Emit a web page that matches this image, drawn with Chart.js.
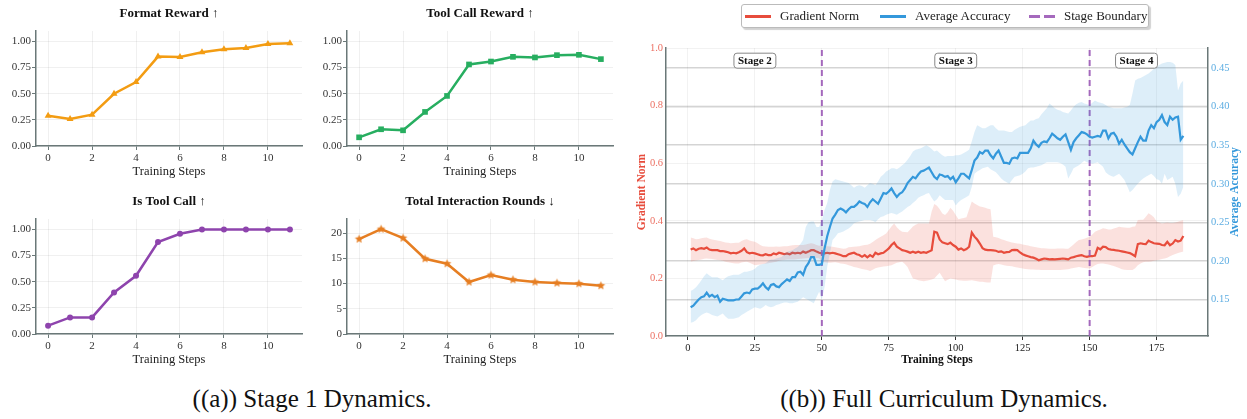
<!DOCTYPE html>
<html>
<head>
<meta charset="utf-8">
<script src="https://cdn.jsdelivr.net/npm/chart.js@4.4.1/dist/chart.umd.min.js"></script>
<style>
body { margin: 0; background: #fff; width: 1247px; height: 419px; position: relative; overflow: hidden; font-family: 'Liberation Serif', serif; }
canvas { position: absolute; }
.cap { position: absolute; top: 385px; font-size: 25px; color: #111; white-space: nowrap; transform: translateX(-50%); }
#legend { position: absolute; left: 741px; top: 4px; width: 406px; height: 22px; border: 1px solid #bbb; border-radius: 3px; box-shadow: 2px 2px 1px rgba(0,0,0,0.18); background: #fff; font-size: 13px; color: #222; }
#legend .ln { position: absolute; top: 10px; width: 26px; height: 2.5px; }
#legend .lt { position: absolute; top: 3px; }
</style>
</head>
<body>
<canvas id="c1" width="310" height="180" style="left:0;top:0"></canvas>
<canvas id="c2" width="310" height="180" style="left:311px;top:0"></canvas>
<canvas id="c3" width="310" height="180" style="left:0;top:188px"></canvas>
<canvas id="c4" width="310" height="180" style="left:311px;top:188px"></canvas>
<canvas id="big" width="617" height="370" style="left:630px;top:0"></canvas>
<div id="legend">
  <span class="ln" style="left:3px;background:#E74C3C"></span><span class="lt" style="left:38px">Gradient Norm</span>
  <span class="ln" style="left:138px;background:#3498DB"></span><span class="lt" style="left:173px">Average Accuracy</span>
  <span class="ln" style="left:287px;background:repeating-linear-gradient(90deg,#A569BD 0 11px,transparent 11px 15px)"></span><span class="lt" style="left:322px">Stage Boundary</span>
</div>
<div class="cap" style="left:312px">((a)) Stage 1 Dynamics.</div>
<div class="cap" style="left:944px">((b)) Full Curriculum Dynamics.</div>
<script>
// stage 1 (12 steps)
var stage1Steps = [0, 1, 2, 3, 4, 5, 6, 7, 8, 9, 10, 11];
var formatReward = [0.29, 0.258, 0.30, 0.50, 0.612, 0.855, 0.852, 0.896, 0.925, 0.938, 0.976, 0.983];
var toolCallReward = [0.083, 0.16, 0.15, 0.326, 0.479, 0.78, 0.808, 0.853, 0.847, 0.869, 0.872, 0.831];
var isToolCall = [0.08, 0.159, 0.159, 0.398, 0.557, 0.879, 0.959, 1.0, 1.0, 1.0, 1.0, 1.0];
var totalRounds = [18.81, 20.79, 19.01, 14.92, 13.93, 10.30, 11.68, 10.76, 10.30, 10.10, 9.97, 9.57];
var stage1XTicks = [0, 2, 4, 6, 8, 10];
var rateTicks = [0, 0.25, 0.5, 0.75, 1.0];
var roundTicks = [0, 5, 10, 15, 20];

// full curriculum, steps 1..185
var gradMean = [
0.300,0.304,0.298,0.303,0.305,0.303,0.307,0.300,0.298,0.298,
0.298,0.295,0.295,0.293,0.291,0.287,0.289,0.287,0.291,0.296,
0.304,0.291,0.287,0.289,0.287,0.284,0.281,0.280,0.284,0.281,
0.281,0.287,0.284,0.289,0.287,0.284,0.287,0.284,0.289,0.287,
0.289,0.287,0.293,0.289,0.293,0.298,0.298,0.293,0.289,0.287,
0.287,0.289,0.287,0.289,0.287,0.284,0.281,0.277,0.277,0.284,
0.287,0.289,0.284,0.281,0.275,0.281,0.273,0.281,0.275,0.289,
0.284,0.287,0.289,0.296,0.304,0.316,0.324,0.310,0.304,0.298,
0.296,0.293,0.289,0.293,0.289,0.293,0.289,0.291,0.289,0.293,
0.298,0.362,0.359,0.335,0.325,0.322,0.319,0.324,0.316,0.310,
0.300,0.304,0.298,0.302,0.310,0.359,0.345,0.335,0.321,0.305,
0.300,0.298,0.298,0.297,0.296,0.292,0.294,0.289,0.291,0.292,
0.298,0.299,0.298,0.290,0.284,0.280,0.277,0.274,0.272,0.268,
0.263,0.266,0.269,0.268,0.266,0.267,0.266,0.267,0.268,0.269,
0.268,0.266,0.272,0.274,0.277,0.279,0.281,0.277,0.275,0.277,
0.277,0.279,0.306,0.301,0.310,0.309,0.302,0.300,0.299,0.297,
0.296,0.294,0.292,0.290,0.288,0.283,0.277,0.319,0.322,0.320,
0.319,0.331,0.326,0.322,0.321,0.320,0.316,0.315,0.327,0.315,
0.321,0.333,0.328,0.331,0.347];
var gradHigh = [
0.342,0.339,0.336,0.337,0.339,0.341,0.342,0.338,0.335,0.333,
0.332,0.330,0.327,0.325,0.324,0.322,0.323,0.324,0.324,0.330,
0.334,0.336,0.332,0.329,0.327,0.322,0.316,0.312,0.311,0.310,
0.310,0.310,0.311,0.310,0.311,0.312,0.312,0.313,0.315,0.316,
0.316,0.316,0.316,0.318,0.320,0.322,0.320,0.316,0.313,0.314,
0.313,0.312,0.311,0.310,0.308,0.306,0.305,0.303,0.304,0.308,
0.309,0.310,0.311,0.312,0.314,0.316,0.317,0.320,0.326,0.333,
0.339,0.345,0.350,0.356,0.368,0.380,0.391,0.378,0.368,0.362,
0.361,0.360,0.370,0.380,0.386,0.391,0.391,0.391,0.391,0.391,
0.432,0.458,0.452,0.440,0.425,0.420,0.430,0.445,0.435,0.420,
0.405,0.408,0.410,0.412,0.440,0.467,0.460,0.455,0.450,0.448,
0.445,0.442,0.440,0.345,0.343,0.340,0.336,0.333,0.330,0.327,
0.325,0.323,0.321,0.320,0.318,0.316,0.314,0.312,0.310,0.308,
0.306,0.305,0.305,0.304,0.303,0.303,0.303,0.304,0.304,0.304,
0.303,0.303,0.310,0.318,0.326,0.333,0.335,0.338,0.341,0.345,
0.352,0.362,0.366,0.370,0.374,0.372,0.370,0.370,0.373,0.376,
0.379,0.378,0.377,0.376,0.376,0.379,0.380,0.403,0.404,0.404,
0.414,0.426,0.420,0.412,0.398,0.394,0.391,0.392,0.394,0.392,
0.392,0.394,0.397,0.400,0.403];
var gradLow = [
0.258,0.260,0.262,0.264,0.266,0.268,0.269,0.268,0.267,0.266,
0.264,0.263,0.261,0.258,0.256,0.254,0.253,0.252,0.252,0.255,
0.257,0.258,0.254,0.250,0.246,0.247,0.248,0.250,0.251,0.253,
0.254,0.256,0.258,0.261,0.263,0.264,0.266,0.266,0.266,0.266,
0.267,0.268,0.269,0.270,0.271,0.273,0.272,0.271,0.270,0.258,
0.256,0.254,0.254,0.255,0.256,0.254,0.252,0.251,0.249,0.246,
0.243,0.240,0.238,0.235,0.233,0.231,0.229,0.226,0.230,0.235,
0.238,0.240,0.241,0.242,0.244,0.246,0.250,0.254,0.256,0.258,
0.250,0.240,0.220,0.200,0.197,0.194,0.192,0.190,0.192,0.194,
0.196,0.200,0.210,0.220,0.205,0.190,0.195,0.200,0.198,0.196,
0.194,0.193,0.192,0.192,0.193,0.194,0.192,0.190,0.188,0.188,
0.187,0.186,0.186,0.245,0.248,0.250,0.248,0.246,0.244,0.243,
0.242,0.240,0.238,0.236,0.234,0.233,0.232,0.231,0.231,0.230,
0.230,0.229,0.229,0.229,0.229,0.229,0.229,0.229,0.229,0.230,
0.231,0.232,0.234,0.236,0.238,0.240,0.238,0.236,0.235,0.234,
0.240,0.246,0.250,0.252,0.252,0.250,0.248,0.246,0.243,0.240,
0.236,0.232,0.230,0.229,0.229,0.229,0.235,0.246,0.252,0.256,
0.258,0.258,0.259,0.261,0.263,0.265,0.267,0.269,0.272,0.277,
0.281,0.285,0.288,0.291,0.293];
var accMean = [
0.140,0.142,0.146,0.150,0.153,0.154,0.159,0.154,0.156,0.153,
0.155,0.147,0.151,0.150,0.149,0.149,0.149,0.150,0.150,0.154,
0.158,0.159,0.158,0.163,0.164,0.164,0.167,0.171,0.166,0.163,
0.169,0.170,0.167,0.166,0.170,0.173,0.176,0.174,0.179,0.179,
0.185,0.186,0.182,0.192,0.197,0.205,0.205,0.195,0.195,0.196,
0.216,0.232,0.244,0.255,0.260,0.266,0.268,0.266,0.263,0.267,
0.270,0.270,0.273,0.277,0.275,0.274,0.270,0.276,0.280,0.277,
0.274,0.281,0.288,0.287,0.290,0.294,0.288,0.283,0.287,0.289,
0.294,0.301,0.305,0.309,0.307,0.312,0.316,0.317,0.319,0.321,
0.315,0.309,0.306,0.312,0.311,0.309,0.310,0.306,0.309,0.302,
0.307,0.313,0.313,0.310,0.307,0.318,0.330,0.334,0.341,0.339,
0.343,0.343,0.337,0.333,0.339,0.343,0.335,0.327,0.327,0.326,
0.333,0.334,0.333,0.340,0.340,0.340,0.340,0.346,0.356,0.351,
0.348,0.353,0.355,0.354,0.359,0.365,0.362,0.359,0.357,0.361,
0.364,0.354,0.344,0.354,0.359,0.363,0.367,0.366,0.364,0.361,
0.360,0.361,0.362,0.361,0.369,0.369,0.359,0.365,0.366,0.361,
0.352,0.357,0.351,0.346,0.341,0.338,0.346,0.354,0.361,0.356,
0.356,0.369,0.376,0.372,0.380,0.383,0.389,0.380,0.376,0.387,
0.383,0.386,0.387,0.357,0.362];
var accHigh = [
0.161,0.163,0.166,0.170,0.175,0.180,0.184,0.181,0.179,0.179,
0.179,0.177,0.175,0.178,0.180,0.181,0.182,0.182,0.182,0.184,
0.186,0.186,0.187,0.188,0.190,0.193,0.195,0.196,0.197,0.200,
0.202,0.202,0.203,0.204,0.205,0.209,0.212,0.213,0.214,0.216,
0.218,0.222,0.227,0.244,0.250,0.251,0.251,0.244,0.244,0.253,
0.266,0.275,0.292,0.303,0.306,0.305,0.304,0.303,0.302,0.301,
0.298,0.295,0.297,0.298,0.297,0.295,0.298,0.301,0.300,0.298,
0.303,0.309,0.312,0.316,0.318,0.320,0.320,0.319,0.321,0.324,
0.327,0.331,0.336,0.342,0.344,0.345,0.346,0.348,0.350,0.348,
0.345,0.342,0.343,0.340,0.337,0.335,0.336,0.336,0.336,0.337,
0.337,0.338,0.340,0.342,0.344,0.355,0.367,0.376,0.374,0.372,
0.372,0.374,0.376,0.376,0.372,0.369,0.369,0.369,0.368,0.367,
0.367,0.370,0.372,0.374,0.375,0.376,0.379,0.382,0.382,0.384,
0.385,0.390,0.394,0.398,0.404,0.401,0.398,0.396,0.395,0.393,
0.392,0.391,0.395,0.400,0.403,0.405,0.406,0.404,0.403,0.402,
0.405,0.408,0.406,0.405,0.404,0.402,0.400,0.399,0.398,0.398,
0.398,0.398,0.399,0.400,0.402,0.417,0.434,0.436,0.437,0.439,
0.441,0.443,0.446,0.449,0.452,0.454,0.456,0.457,0.458,0.458,
0.457,0.454,0.421,0.430,0.434];
var accLow = [
0.120,0.121,0.123,0.127,0.130,0.132,0.133,0.132,0.130,0.129,
0.128,0.130,0.132,0.128,0.125,0.125,0.125,0.126,0.127,0.130,
0.132,0.134,0.136,0.138,0.140,0.139,0.138,0.140,0.143,0.141,
0.140,0.141,0.143,0.144,0.145,0.146,0.146,0.145,0.145,0.146,
0.147,0.150,0.153,0.151,0.149,0.147,0.145,0.153,0.160,0.150,
0.166,0.192,0.210,0.227,0.231,0.236,0.237,0.238,0.240,0.242,
0.245,0.249,0.250,0.251,0.252,0.253,0.253,0.253,0.252,0.250,
0.254,0.257,0.258,0.260,0.261,0.262,0.261,0.260,0.262,0.264,
0.267,0.270,0.272,0.275,0.278,0.282,0.284,0.285,0.287,0.288,
0.282,0.277,0.280,0.285,0.282,0.279,0.279,0.279,0.279,0.272,
0.276,0.279,0.281,0.283,0.285,0.296,0.313,0.316,0.318,0.320,
0.321,0.322,0.319,0.317,0.315,0.311,0.307,0.304,0.302,0.300,
0.305,0.309,0.310,0.311,0.313,0.316,0.320,0.321,0.321,0.322,
0.323,0.324,0.326,0.328,0.328,0.328,0.328,0.328,0.327,0.325,
0.322,0.307,0.313,0.320,0.322,0.324,0.327,0.330,0.328,0.327,
0.326,0.327,0.328,0.325,0.322,0.315,0.312,0.310,0.309,0.311,
0.313,0.309,0.305,0.297,0.289,0.292,0.296,0.300,0.304,0.307,
0.309,0.311,0.313,0.310,0.306,0.305,0.300,0.313,0.305,0.307,
0.309,0.300,0.283,0.287,0.296];
var fullXTicks = [0, 25, 50, 75, 100, 125, 150, 175];
var gradTicks = [0, 0.2, 0.4, 0.6, 0.8, 1.0];
var accTicks = [0.15, 0.20, 0.25, 0.30, 0.35, 0.40, 0.45];
var stageBounds = [50, 150];
var stageNames = ['Stage 2', 'Stage 3', 'Stage 4'];
var stageCenters = [25, 100, 167.5];

Chart.defaults.font.family = "'Liberation Serif', serif";
Chart.defaults.color = '#222';
Chart.defaults.animation = false;

var SPINE = '#6a7878';

// filled star marker like matplotlib '*'
function starMarker(color, r) {
	var c = document.createElement('canvas');
	c.width = c.height = Math.ceil(2 * r + 2);
	var g = c.getContext('2d');
	g.fillStyle = color;
	g.beginPath();
	for (var i = 0; i < 10; i++) {
		var a = -Math.PI / 2 + i * Math.PI / 5;
		var rr = i % 2 ? r * 0.45 : r;
		g.lineTo(c.width / 2 + rr * Math.cos(a), c.height / 2 + rr * Math.sin(a));
	}
	g.closePath();
	g.fill();
	return c;
}

var panelTitle = {
	id: 'panelTitle',
	afterDraw: function(chart, args, opts) {
		var ctx = chart.ctx, ca = chart.chartArea;
		ctx.save();
		ctx.font = "bold 13px 'Liberation Serif'";
		ctx.fillStyle = '#111';
		ctx.textAlign = 'center';
		ctx.textBaseline = 'middle';
		ctx.fillText(opts.text, (ca.left + ca.right) / 2, 14);
		ctx.restore();
	}
};

function smallPanel(id, title, values, color, marker, radius, yMax, yTicks, digits) {
	new Chart(document.getElementById(id), {
		type: 'line',
		data: {
			datasets: [{
				data: values.map(function(v, i) { return {x: stage1Steps[i], y: v}; }),
				borderColor: color,
				backgroundColor: color,
				borderWidth: 2.5,
				pointStyle: marker,
				pointRadius: radius,
				pointBorderWidth: 0,
				fill: false
			}]
		},
		options: {
			responsive: false,
			layout: {padding: {left: 0, right: 8, top: 31, bottom: 0}},
			plugins: {legend: {display: false}, tooltip: {enabled: false}, panelTitle: {text: title}},
			scales: {
				x: {
					type: 'linear', min: -0.55, max: 11.55,
					afterBuildTicks: function(s) { s.ticks = stage1XTicks.map(function(v) { return {value: v}; }); },
					afterFit: function(s) { s.height = 34; },
					grid: {color: 'rgba(0,0,0,0.06)', tickColor: SPINE, tickLength: 4},
					border: {color: SPINE, width: 1.5},
					ticks: {font: {size: 11}, padding: 2, maxRotation: 0, color: '#333'},
					title: {display: true, text: 'Training Steps', font: {size: 12.5}, color: '#222', padding: {top: 0, bottom: 1}}
				},
				y: {
					min: 0, max: yMax,
					afterBuildTicks: function(s) { s.ticks = yTicks.map(function(v) { return {value: v}; }); },
					afterFit: function(s) { s.width = 36; },
					grid: {color: 'rgba(0,0,0,0.06)', tickColor: SPINE, tickLength: 4},
					border: {color: SPINE, width: 1.5},
					ticks: {font: {size: 11}, padding: 1, color: '#333', callback: function(v) { return v.toFixed(digits); }}
				}
			}
		},
		plugins: [panelTitle]
	});
}

smallPanel('c1', 'Format Reward \u2191', formatReward, '#F39C12', 'triangle', 4, 1.1, rateTicks, 2);
smallPanel('c2', 'Tool Call Reward \u2191', toolCallReward, '#27AE60', 'rect', 4, 1.1, rateTicks, 2);
smallPanel('c3', 'Is Tool Call \u2191', isToolCall, '#8E44AD', 'circle', 3, 1.1, rateTicks, 2);
smallPanel('c4', 'Total Interaction Rounds \u2193', totalRounds, '#E67E22', starMarker('#E67E22', 4.5), 4.5, 22.8, roundTicks, 0);

// full curriculum chart
var steps = gradMean.map(function(_, i) { return i + 1; });
function pts(arr) { return arr.map(function(v, i) { return {x: steps[i], y: v}; }); }
function vline(x) { return [{x: x, y: 0}, {x: x, y: 1}]; }

var stageLabels = {
	id: 'stageLabels',
	afterDatasetsDraw: function(chart) {
		var ctx = chart.ctx, sx = chart.scales.x, sy = chart.scales.y;
		ctx.save();
		ctx.font = "bold 11px 'Liberation Serif'";
		ctx.textAlign = 'center';
		ctx.textBaseline = 'middle';
		stageNames.forEach(function(name, i) {
			var cx = sx.getPixelForValue(stageCenters[i]);
			var cy = sy.getPixelForValue(0.956);
			var w = ctx.measureText(name).width + 8, h = 15;
			ctx.beginPath();
			ctx.roundRect(cx - w / 2, cy - h / 2, w, h, 3);
			ctx.fillStyle = '#fff';
			ctx.fill();
			ctx.strokeStyle = '#888';
			ctx.lineWidth = 1;
			ctx.stroke();
			ctx.fillStyle = '#111';
			ctx.fillText(name, cx, cy + 0.5);
		});
		ctx.restore();
	},
	afterDraw: function(chart) {
		var ctx = chart.ctx, ca = chart.chartArea;
		var midY = (ca.top + ca.bottom) / 2;
		ctx.save();
		ctx.textAlign = 'center';
		ctx.textBaseline = 'middle';
		ctx.font = "bold 11.5px 'Liberation Serif'";
		ctx.fillStyle = '#111';
		ctx.fillText('Training Steps', (ca.left + ca.right) / 2, 360);
		ctx.translate(12, midY);
		ctx.rotate(-Math.PI / 2);
		ctx.fillStyle = '#E74C3C';
		ctx.fillText('Gradient Norm', 0, 0);
		ctx.restore();
		ctx.save();
		ctx.textAlign = 'center';
		ctx.textBaseline = 'middle';
		ctx.font = "bold 11.5px 'Liberation Serif'";
		ctx.translate(605, midY);
		ctx.rotate(-Math.PI / 2);
		ctx.fillStyle = '#3498DB';
		ctx.fillText('Average Accuracy', 0, 0);
		ctx.restore();
	}
};

var noLine = {borderWidth: 0, borderColor: 'transparent', pointRadius: 0};
new Chart(document.getElementById('big'), {
	type: 'line',
	data: {
		datasets: [
			{label: 'Average Accuracy', data: pts(accMean), yAxisID: 'y2', borderColor: '#3498DB', borderWidth: 2.2, pointRadius: 0, fill: false, order: 0},
			Object.assign({label: 'accLow', data: pts(accLow), yAxisID: 'y2', fill: false, order: 1}, noLine),
			Object.assign({label: 'accHigh', data: pts(accHigh), yAxisID: 'y2', fill: 1, backgroundColor: 'rgba(52,152,219,0.17)', order: 1}, noLine),
			{label: 'Stage Boundary', data: vline(stageBounds[0]), yAxisID: 'y', borderColor: 'rgba(155,89,182,0.9)', borderWidth: 2, borderDash: [6, 4], pointRadius: 0, fill: false, order: 2},
			{label: 'Stage Boundary', data: vline(stageBounds[1]), yAxisID: 'y', borderColor: 'rgba(155,89,182,0.9)', borderWidth: 2, borderDash: [6, 4], pointRadius: 0, fill: false, order: 2},
			{label: 'Gradient Norm', data: pts(gradMean), yAxisID: 'y', borderColor: '#E74C3C', borderWidth: 2.2, pointRadius: 0, fill: false, order: 3},
			Object.assign({label: 'gradLow', data: pts(gradLow), yAxisID: 'y', fill: false, order: 4}, noLine),
			Object.assign({label: 'gradHigh', data: pts(gradHigh), yAxisID: 'y', fill: 6, backgroundColor: 'rgba(231,76,60,0.17)', order: 4}, noLine)
		]
	},
	options: {
		responsive: false,
		layout: {padding: {left: 0, right: 0, top: 48, bottom: 0}},
		plugins: {legend: {display: false}, tooltip: {enabled: false}},
		scales: {
			x: {
				type: 'linear', min: -8.2, max: 194.2,
				afterBuildTicks: function(s) { s.ticks = fullXTicks.map(function(v) { return {value: v}; }); },
				afterFit: function(s) { s.height = 34; },
				grid: {color: 'rgba(0,0,0,0.05)', tickColor: '#333', tickLength: 4},
				border: {color: SPINE, width: 1.5},
				ticks: {font: {size: 10.5}, padding: 2, maxRotation: 0, color: '#222'}
			},
			y: {
				position: 'left', min: 0, max: 1,
				afterBuildTicks: function(s) { s.ticks = gradTicks.map(function(v) { return {value: v}; }); },
				afterFit: function(s) { s.width = 36; },
				grid: {color: 'rgba(0,0,0,0.05)', drawTicks: false},
				border: {color: SPINE, width: 1.5},
				ticks: {font: {size: 10.5}, padding: 3, color: '#EC7063', callback: function(v) { return v.toFixed(1); }}
			},
			y2: {
				position: 'right', min: 0.1027, max: 0.476,
				afterBuildTicks: function(s) { s.ticks = accTicks.map(function(v) { return {value: v}; }); },
				afterFit: function(s) { s.width = 39; },
				grid: {color: 'rgba(0,0,0,0.17)', lineWidth: 1.5, drawTicks: false},
				border: {color: SPINE, width: 1.5},
				ticks: {font: {size: 10.5}, padding: 3, color: '#5DADE2', callback: function(v) { return v.toFixed(2); }}
			}
		}
	},
	plugins: [stageLabels]
});
</script>
</body>
</html>
